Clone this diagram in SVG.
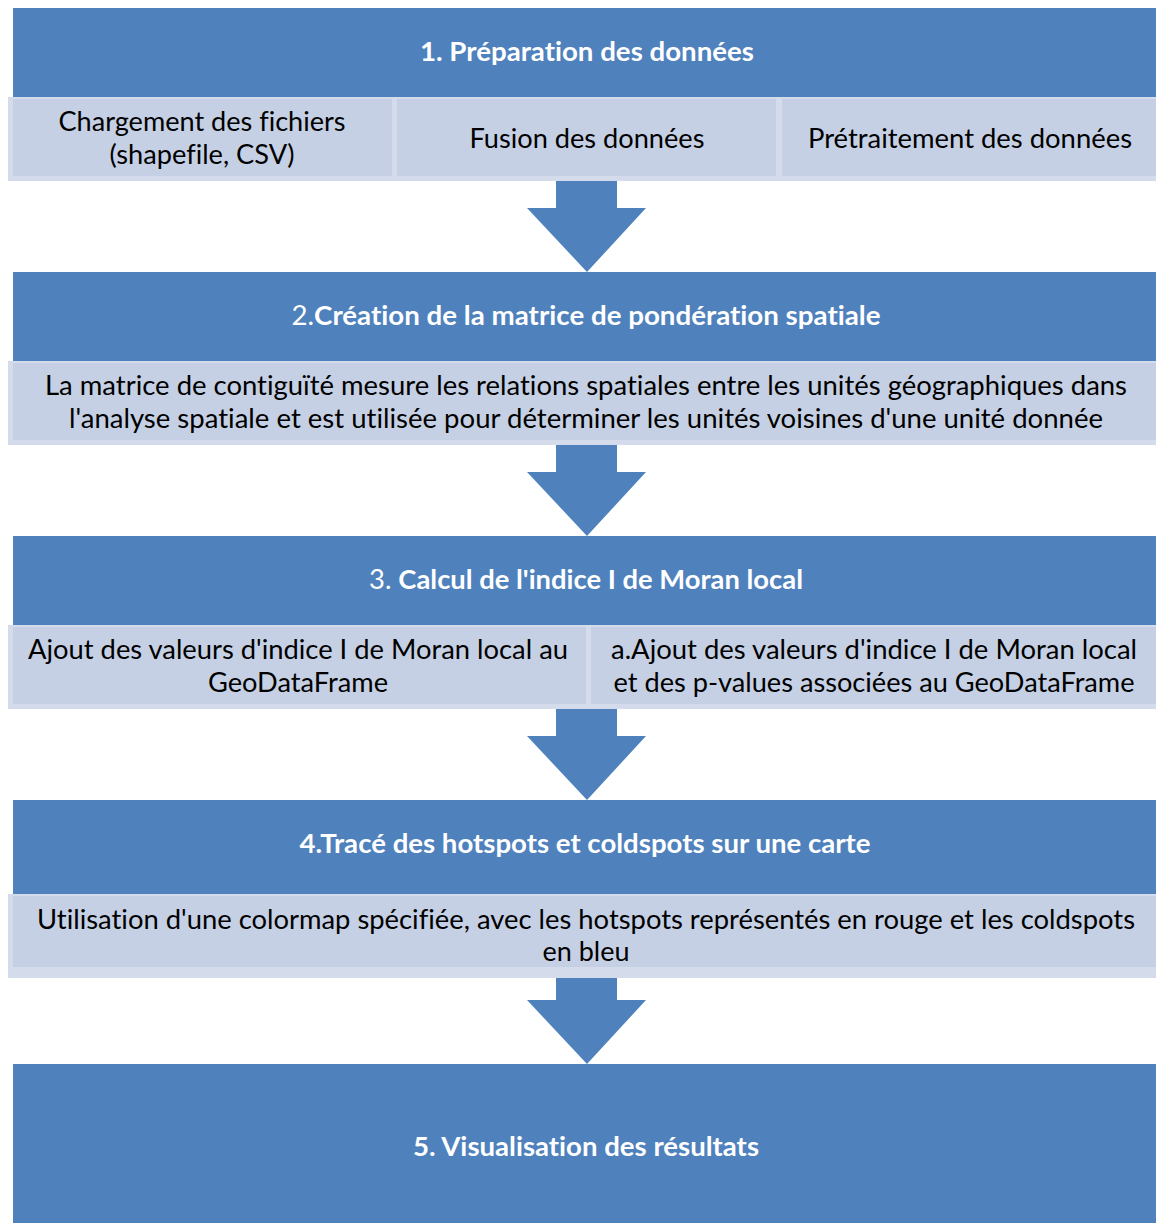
<svg xmlns="http://www.w3.org/2000/svg" width="1156" height="1223" viewBox="0 0 1156 1223">
<style>
.hdr{fill:#4F81BD}
.sbo{fill:#D4DCEB}
.sbi{fill:#C5D0E4}
.arr{fill:#4F81BD}
text{font-family:Lato,"Open Sans","Liberation Sans",sans-serif;font-size:26px;text-anchor:middle;font-variant-ligatures:none;font-feature-settings:"liga" 0,"dlig" 0,"clig" 0}
.ht{fill:#FFFFFF;font-weight:bold}
.ht .n{font-weight:normal}
.st{fill:#000000}
</style>
<rect width="1156" height="1223" fill="#FFFFFF"/>
<g id="connectors">
<path class="arr" d="M556,178 H617 V208 H646 L587,272 L527,208 H556 Z"/>
<path class="arr" d="M556,442 H617 V472 H646 L587,536 L527,472 H556 Z"/>
<path class="arr" d="M556,706 H617 V736 H646 L587,800 L527,736 H556 Z"/>
<path class="arr" d="M556,976 H617 V1000 H646 L587,1064 L527,1000 H556 Z"/>
</g>
<g id="step1">
<rect class="hdr" x="13" y="8" width="1143" height="89"/>
<text class="ht" x="587" y="61" textLength="334" lengthAdjust="spacingAndGlyphs">1. Préparation des données</text>
</g>
<g id="step1-load">
<rect class="sbo" x="8" y="97" width="385" height="84"/>
<rect class="sbi" x="13" y="99" width="379" height="77"/>
<text class="st" x="202" y="131" textLength="287" lengthAdjust="spacingAndGlyphs">Chargement des fichiers</text>
<text class="st" x="202" y="164" textLength="185" lengthAdjust="spacingAndGlyphs">(shapefile, CSV)</text>
</g>
<g id="step1-merge">
<rect class="sbo" x="393" y="97" width="385" height="84"/>
<rect class="sbi" x="397" y="99" width="379" height="77"/>
<text class="st" x="587" y="148" textLength="235" lengthAdjust="spacingAndGlyphs">Fusion des données</text>
</g>
<g id="step1-preprocess">
<rect class="sbo" x="778" y="97" width="378" height="84"/>
<rect class="sbi" x="782" y="99" width="374" height="77"/>
<text class="st" x="970" y="148" textLength="324" lengthAdjust="spacingAndGlyphs">Prétraitement des données</text>
</g>
<g id="step2">
<rect class="hdr" x="13" y="272" width="1143" height="89"/>
<text class="ht" x="586" y="325" textLength="589" lengthAdjust="spacingAndGlyphs"><tspan class="n">2.</tspan>Création de la matrice de pondération spatiale</text>
</g>
<g id="step2-desc">
<rect class="sbo" x="8" y="361" width="1148" height="84"/>
<rect class="sbi" x="13" y="363" width="1143" height="77"/>
<text class="st" x="586" y="395" textLength="1082" lengthAdjust="spacingAndGlyphs">La matrice de contiguïté mesure les relations spatiales entre les unités géographiques dans</text>
<text class="st" x="586" y="428" textLength="1034" lengthAdjust="spacingAndGlyphs">l'analyse spatiale et est utilisée pour déterminer les unités voisines d'une unité donnée</text>
</g>
<g id="step3">
<rect class="hdr" x="13" y="536" width="1143" height="89"/>
<text class="ht" x="586" y="589" textLength="434" lengthAdjust="spacingAndGlyphs"><tspan class="n">3. </tspan>Calcul de l'indice I de Moran local</text>
</g>
<g id="step3-add">
<rect class="sbo" x="8" y="625" width="579" height="84"/>
<rect class="sbi" x="13" y="627" width="573" height="77"/>
<text class="st" x="298" y="659" textLength="540" lengthAdjust="spacingAndGlyphs">Ajout des valeurs d'indice I de Moran local au</text>
<text class="st" x="298" y="692" textLength="180" lengthAdjust="spacingAndGlyphs">GeoDataFrame</text>
</g>
<g id="step3-pvalues">
<rect class="sbo" x="587" y="625" width="569" height="84"/>
<rect class="sbi" x="591" y="627" width="565" height="77"/>
<text class="st" x="874" y="659" textLength="526" lengthAdjust="spacingAndGlyphs">a.Ajout des valeurs d'indice I de Moran local</text>
<text class="st" x="874" y="692" textLength="521" lengthAdjust="spacingAndGlyphs">et des p-values associées au GeoDataFrame</text>
</g>
<g id="step4">
<rect class="hdr" x="13" y="800" width="1143" height="94"/>
<text class="ht" x="585" y="853" textLength="571" lengthAdjust="spacingAndGlyphs">4.Tracé des hotspots et coldspots sur une carte</text>
</g>
<g id="step4-desc">
<rect class="sbo" x="8" y="894" width="1148" height="84"/>
<rect class="sbi" x="13" y="896" width="1143" height="71"/>
<text class="st" x="586" y="929" textLength="1098" lengthAdjust="spacingAndGlyphs">Utilisation d'une colormap spécifiée, avec les hotspots représentés en rouge et les coldspots</text>
<text class="st" x="586" y="961" textLength="87" lengthAdjust="spacingAndGlyphs">en bleu</text>
</g>
<g id="step5">
<rect class="hdr" x="13" y="1064" width="1143" height="159"/>
<text class="ht" x="586" y="1156" textLength="346" lengthAdjust="spacingAndGlyphs">5. Visualisation des résultats</text>
</g>
</svg>
